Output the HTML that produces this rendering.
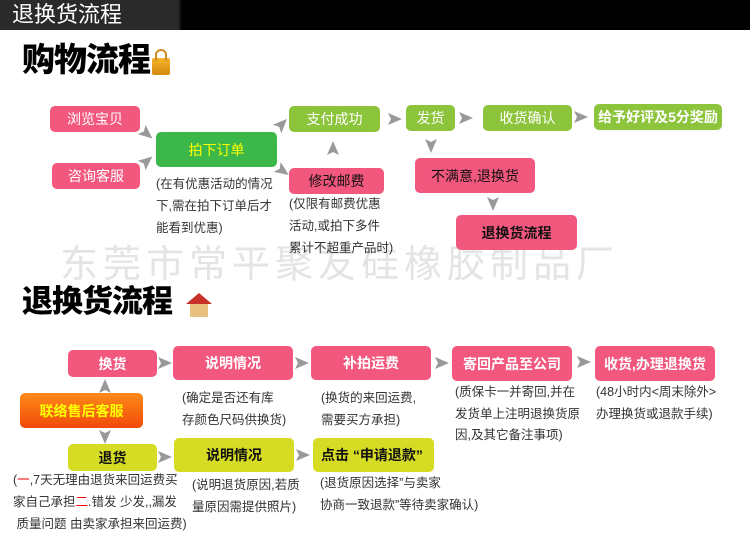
<!DOCTYPE html>
<html><head><meta charset="utf-8"><style>
*{margin:0;padding:0;box-sizing:border-box}
body{width:750px;height:542px;background:#fff;position:relative;overflow:hidden;font-family:"Liberation Sans","Noto Sans CJK SC",sans-serif}
.a{position:absolute}
.b{position:absolute;border-radius:5px;display:flex;align-items:center;justify-content:center;font-size:14px;color:#fff;white-space:nowrap}
.pk{background:#f2577e}.gr{background:#8cc43c}.dg{background:#3cb84a}.yl{background:#d6dc24;color:#111;font-weight:bold}
.n{position:absolute;font-size:12.5px;color:#333;line-height:22px;white-space:nowrap}
</style></head><body>
<div class="a" style="left:0;top:0;width:750px;height:30px;background:linear-gradient(90deg,#2a2a2a 0,#2a2a2a 178px,#000 182px,#000)"></div>
<div class="a" style="left:12px;top:1px;font-size:22px;color:#fff;line-height:28px">退换货流程</div>
<div class="a" style="left:22px;top:40px;font-size:33px;font-weight:900;color:#000;letter-spacing:-1px;line-height:40px">购物流程</div>
<div class="a" style="left:152px;top:58px;width:18px;height:17px;background:linear-gradient(#f5b52a,#d68a10);border-radius:2px"></div>
<div class="a" style="left:155px;top:49px;width:12px;height:12px;border:2px solid #d08a20;border-bottom:none;border-radius:6px 6px 0 0"></div>
<div class="a" style="left:60px;top:240px;font-size:38px;color:#e4e4e4;letter-spacing:5px;line-height:50px">东莞市常平聚友硅橡胶制品厂</div>

<div class="b pk" style="left:50px;top:106px;width:90px;height:26px">浏览宝贝</div>
<div class="b pk" style="left:52px;top:163px;width:88px;height:26px">咨询客服</div>
<div class="b dg" style="left:156px;top:132px;width:121px;height:35px;color:#ff0">拍下订单</div>
<div class="n" style="left:156px;top:173px">(在有优惠活动的情况<br>下,需在拍下订单后才<br>能看到优惠)</div>
<div class="b gr" style="left:289px;top:106px;width:91px;height:26px">支付成功</div>
<div class="b pk" style="left:289px;top:168px;width:95px;height:26px;color:#111">修改邮费</div>
<div class="n" style="left:289px;top:193px">(仅限有邮费优惠<br>活动,或拍下多件<br>累计不超重产品时)</div>
<div class="b gr" style="left:406px;top:105px;width:49px;height:26px">发货</div>
<div class="b gr" style="left:483px;top:105px;width:89px;height:26px">收货确认</div>
<div class="b gr" style="left:594px;top:104px;width:128px;height:26px;font-weight:bold">给予好评及5分奖励</div>
<div class="b pk" style="left:415px;top:158px;width:120px;height:35px;color:#111">不满意,退换货</div>
<div class="b pk" style="left:456px;top:215px;width:121px;height:35px;color:#111;font-weight:bold">退换货流程</div>

<div class="a" style="left:22px;top:282px;font-size:31px;font-weight:900;color:#000;letter-spacing:-1px;line-height:40px">退换货流程</div>
<div class="a" style="left:190px;top:303px;width:18px;height:14px;background:#e8c080"></div>
<div class="a" style="left:186px;top:293px;width:0;height:0;border-left:13px solid transparent;border-right:13px solid transparent;border-bottom:11px solid #c8302a"></div>

<div class="b pk" style="left:68px;top:350px;width:89px;height:27px;font-weight:bold">换货</div>
<div class="b" style="left:20px;top:393px;width:123px;height:35px;background:linear-gradient(#ff8a1a,#f04a08);color:#ff0;font-weight:bold">联络售后客服</div>
<div class="b yl" style="left:68px;top:444px;width:89px;height:27px">退货</div>
<div class="b pk" style="left:173px;top:346px;width:120px;height:34px;font-weight:bold">说明情况</div>
<div class="n" style="left:182px;top:387px">(确定是否还有库<br>存颜色尺码供换货)</div>
<div class="b pk" style="left:311px;top:346px;width:120px;height:34px;font-weight:bold">补拍运费</div>
<div class="n" style="left:321px;top:387px">(换货的来回运费,<br>需要买方承担)</div>
<div class="b pk" style="left:452px;top:346px;width:120px;height:35px;font-weight:bold">寄回产品至公司</div>
<div class="n" style="left:455px;top:382px;line-height:21.5px">(质保卡一并寄回,并在<br>发货单上注明退换货原<br>因,及其它备注事项)</div>
<div class="b pk" style="left:595px;top:346px;width:120px;height:35px;font-weight:bold">收货,办理退换货</div>
<div class="n" style="left:596px;top:382px;line-height:21.5px">(48小时内&lt;周末除外&gt;<br>办理换货或退款手续)</div>
<div class="b yl" style="left:174px;top:438px;width:120px;height:34px">说明情况</div>
<div class="n" style="left:192px;top:474px">(说明退货原因,若质<br>量原因需提供照片)</div>
<div class="b yl" style="left:313px;top:438px;width:121px;height:34px;justify-content:flex-start;padding-left:8px">点击 “申请退款”</div>
<div class="n" style="left:320px;top:472px">(退货原因选择”与卖家<br>协商一致退款”等待卖家确认)</div>
<div class="n" style="left:13px;top:469px">(<span style="color:#e00">一</span>,7天无理由退货来回运费买<br>家自己承担<span style="color:#e00">二</span>.错发 少发,,漏发<br>&nbsp;质量问题 由卖家承担来回运费)</div>

<svg class="a" style="left:0;top:0" width="750" height="542">
<defs><polygon id="ar" points="-7,-6 7,0 -7,6 -4,0" fill="#999"/></defs>
<use href="#ar" transform="translate(147,134) rotate(40)"/>
<use href="#ar" transform="translate(147,161) rotate(-40)"/>
<use href="#ar" transform="translate(282,124) rotate(-45)"/>
<use href="#ar" transform="translate(283,171) rotate(35)"/>
<use href="#ar" transform="translate(333,148) rotate(-90)"/>
<use href="#ar" transform="translate(395,119)"/>
<use href="#ar" transform="translate(466,118)"/>
<use href="#ar" transform="translate(581,117)"/>
<use href="#ar" transform="translate(431,146) rotate(90)"/>
<use href="#ar" transform="translate(493,204) rotate(90)"/>
<use href="#ar" transform="translate(105,386) rotate(-90)"/>
<use href="#ar" transform="translate(105,437) rotate(90)"/>
<use href="#ar" transform="translate(165,363)"/>
<use href="#ar" transform="translate(302,363)"/>
<use href="#ar" transform="translate(442,363)"/>
<use href="#ar" transform="translate(584,362)"/>
<use href="#ar" transform="translate(165,457)"/>
<use href="#ar" transform="translate(303,455)"/>
</svg>
</body></html>
